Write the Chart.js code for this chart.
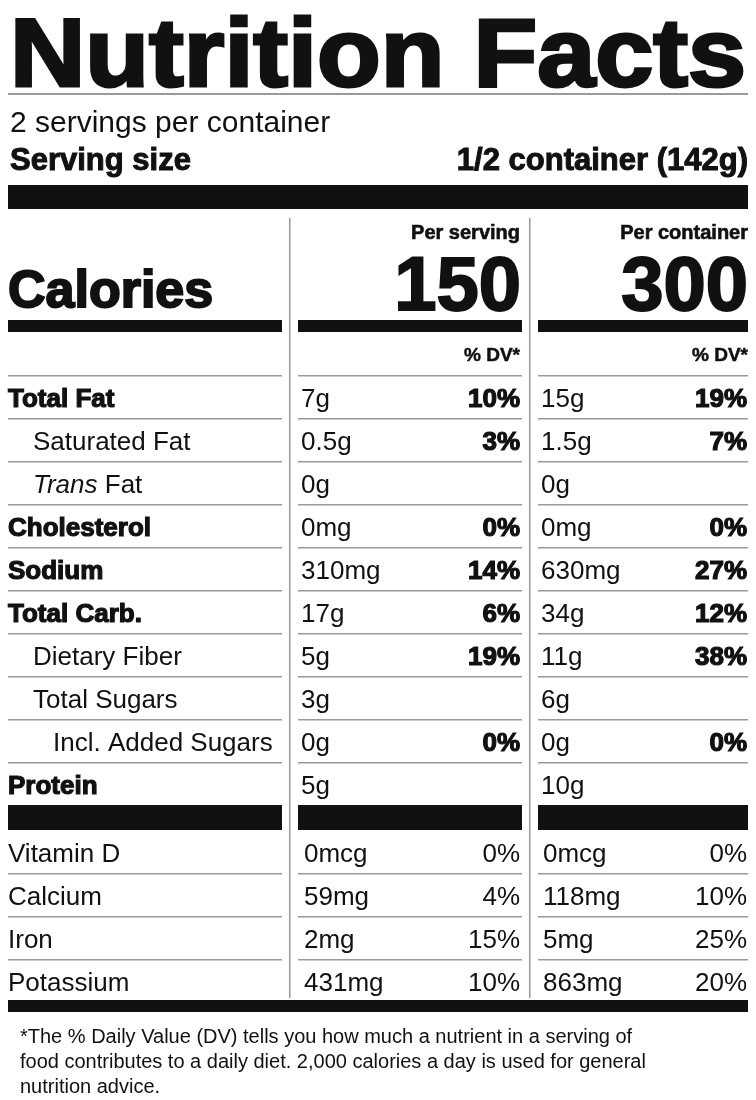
<!DOCTYPE html>
<html>
<head>
<meta charset="utf-8">
<script src="https://cdn.jsdelivr.net/npm/chart.js@4/dist/chart.umd.min.js"></script>
<style>
  html, body { margin: 0; padding: 0; background: #fff; }
  #label { display: block; }
</style>
</head>
<body>
<canvas id="label" width="756" height="1100"></canvas>
<script>
// Label data
const servingsText = '2 servings per container';
const servingSize = '1/2 container (142g)';
const caloriesPerServing = 150;
const caloriesPerContainer = 300;

const nutrients = ['Total Fat', 'Saturated Fat', 'Trans Fat', 'Cholesterol', 'Sodium', 'Total Carb.', 'Dietary Fiber', 'Total Sugars', 'Incl. Added Sugars', 'Protein'];
const nutrientLevel = [0, 1, 1, 0, 0, 0, 1, 1, 2, 0];
const servingAmount = ['7g', '0.5g', '0g', '0mg', '310mg', '17g', '5g', '3g', '0g', '5g'];
const servingDV = ['10%', '3%', '', '0%', '14%', '6%', '19%', '', '0%', ''];
const containerAmount = ['15g', '1.5g', '0g', '0mg', '630mg', '34g', '11g', '6g', '0g', '10g'];
const containerDV = ['19%', '7%', '', '0%', '27%', '12%', '38%', '', '0%', ''];

const vitamins = ['Vitamin D', 'Calcium', 'Iron', 'Potassium'];
const vitServingAmount = ['0mcg', '59mg', '2mg', '431mg'];
const vitServingDV = ['0%', '4%', '15%', '10%'];
const vitContainerAmount = ['0mcg', '118mg', '5mg', '863mg'];
const vitContainerDV = ['0%', '10%', '25%', '20%'];

const footnote = [
  '*The % Daily Value (DV) tells you how much a nutrient in a serving of',
  'food contributes to a daily diet. 2,000 calories a day is used for general',
  'nutrition advice.'
];

const SANS = "'Liberation Sans', Arial, sans-serif";
const GRAY = '#9a9a9a';

const labelPlugin = {
  id: 'labelPlugin',
  afterDraw(chart) {
    const ctx = chart.ctx;
    const X = v => chart.scales.x.getPixelForValue(v);
    const Y = v => chart.scales.y.getPixelForValue(v);

    function text(str, x, y, size, opts = {}) {
      ctx.save();
      ctx.font = `${opts.italic ? 'italic ' : ''}${opts.bold ? 'bold ' : ''}${size}px ${SANS}`;
      ctx.fillStyle = '#111';
      ctx.textBaseline = 'alphabetic';
      ctx.textAlign = opts.align || 'left';
      if (opts.width) {
        const w = ctx.measureText(str).width;
        ctx.translate(X(x), Y(y));
        ctx.scale(opts.width / w, 1);
        ctx.fillText(str, 0, 0);
        if (opts.heavy) { ctx.lineWidth = opts.heavy; ctx.strokeStyle = '#111'; ctx.strokeText(str, 0, 0); }
      } else {
        ctx.fillText(str, X(x), Y(y));
        if (opts.heavy) { ctx.lineWidth = opts.heavy; ctx.strokeStyle = '#111'; ctx.strokeText(str, X(x), Y(y)); }
      }
      ctx.restore();
    }
    function rect(x0, y0, x1, y1, color) {
      ctx.fillStyle = color || '#111';
      ctx.fillRect(X(x0), Y(y0), X(x1) - X(x0), Y(y1) - Y(y0));
    }
    const cols = [[8, 282], [298, 522], [538, 748]];
    function rowLines(y) { cols.forEach(c => rect(c[0], y, c[1], y + 1.5, GRAY)); }
    function bars(y0, y1) { cols.forEach(c => rect(c[0], y0, c[1], y1)); }

    // Header
    text('Nutrition Facts', 10, 86, 96, { bold: true, width: 736, heavy: 3 });
    rect(8, 93, 748, 95, GRAY);
    text(servingsText, 10, 132, 30);
    text('Serving size', 10, 170, 31, { bold: true, heavy: 1 });
    text(servingSize, 748, 170, 31, { bold: true, align: 'right', heavy: 1 });
    rect(8, 185, 748, 209);

    // Dividers
    rect(289, 218, 290.5, 998, GRAY);
    rect(529, 218, 530.5, 998, GRAY);

    // Calories
    text('Per serving', 520, 239, 20, { bold: true, align: 'right', heavy: 0.6 });
    text('Per container', 748, 239, 20, { bold: true, align: 'right', heavy: 0.6 });
    text(String(caloriesPerServing), 521, 310, 76, { bold: true, align: 'right', heavy: 2 });
    text(String(caloriesPerContainer), 748, 310, 76, { bold: true, align: 'right', heavy: 2 });
    text('Calories', 8, 307, 52, { bold: true, heavy: 2 });
    bars(320, 332);
    text('% DV*', 520, 361, 19, { bold: true, align: 'right', heavy: 0.5 });
    text('% DV*', 748, 361, 19, { bold: true, align: 'right', heavy: 0.5 });

    // Nutrient rows
    const rowH = 43;
    nutrients.forEach((name, i) => {
      const top = 375 + i * rowH;
      rowLines(top);
      const base = top + 32;
      const bold = nutrientLevel[i] === 0;
      const indent = [8, 33, 53][nutrientLevel[i]];
      if (name === 'Trans Fat') {
        text('Trans', indent, base, 26, { italic: true });
        ctx.font = `italic 26px ${SANS}`;
        const w = ctx.measureText('Trans ').width;
        text('Fat', indent + w, base, 26);
      } else {
        text(name, indent, base, bold ? 26 : 26, { bold, heavy: bold ? 1.2 : 0 });
      }
      text(servingAmount[i], 301, base, 26);
      text(servingDV[i], 520, base, 26, { bold: true, align: 'right', heavy: 1.2 });
      text(containerAmount[i], 541, base, 26);
      text(containerDV[i], 747, base, 26, { bold: true, align: 'right', heavy: 1.2 });
    });
    bars(805, 830);

    // Vitamins and minerals
    vitamins.forEach((name, i) => {
      const top = 830 + i * rowH;
      if (i > 0) rowLines(top);
      const base = top + 32;
      text(name, 8, base, 26);
      text(vitServingAmount[i], 304, base, 26);
      text(vitServingDV[i], 520, base, 26, { align: 'right' });
      text(vitContainerAmount[i], 543, base, 26);
      text(vitContainerDV[i], 747, base, 26, { align: 'right' });
    });
    rect(8, 1000, 748, 1012);

    // Footnote
    footnote.forEach((line, i) => text(line, 20, 1043 + i * 25, 20));
  }
};

new Chart(document.getElementById('label'), {
  type: 'scatter',
  data: { datasets: [{ data: [] }] },
  options: {
    responsive: false,
    animation: false,
    devicePixelRatio: 1,
    layout: { padding: 0 },
    plugins: { legend: { display: false }, tooltip: { enabled: false } },
    scales: {
      x: { type: 'linear', min: 0, max: 756, display: false },
      y: { type: 'linear', min: 0, max: 1100, reverse: true, display: false }
    }
  },
  plugins: [labelPlugin]
});
</script>
</body>
</html>
